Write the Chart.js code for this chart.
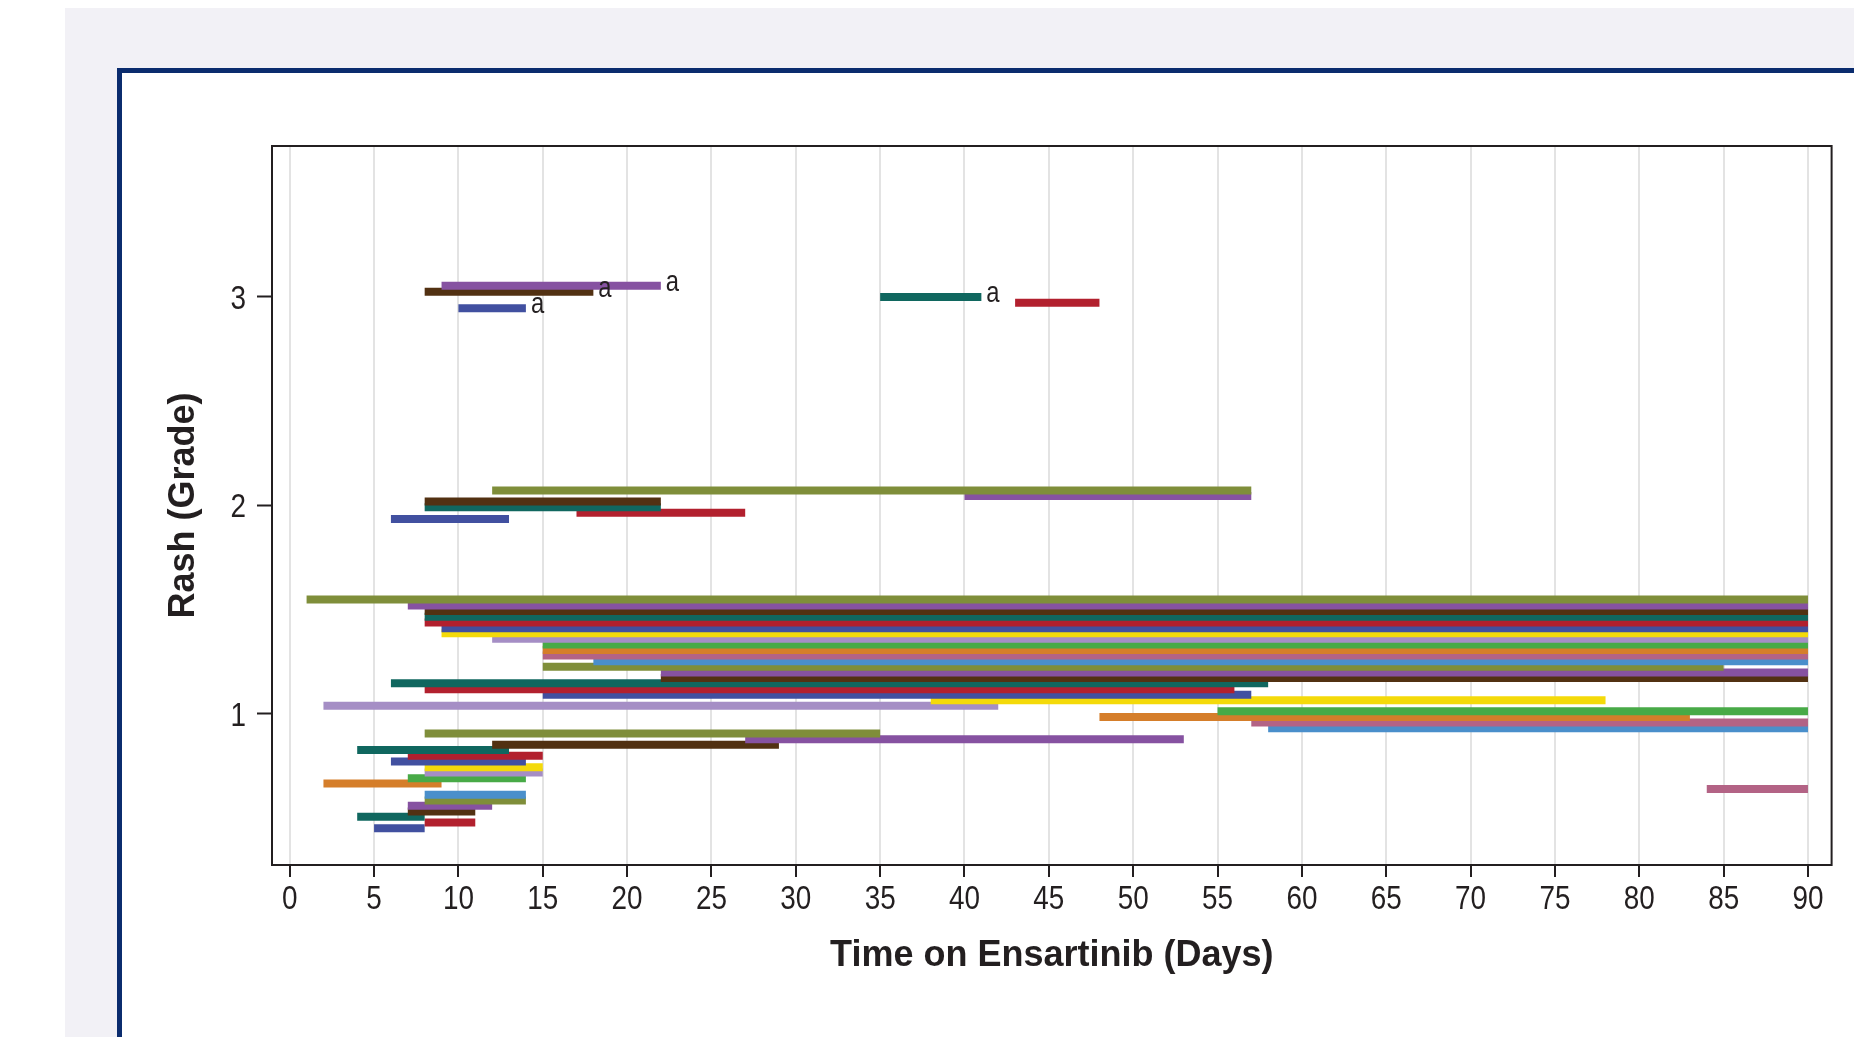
<!DOCTYPE html>
<html>
<head>
<meta charset="utf-8">
<title>Rash grade over time on ensartinib</title>
<script src="https://cdn.jsdelivr.net/npm/chart.js@4.4.1/dist/chart.umd.min.js"></script>
<style>
  html, body { margin: 0; padding: 0; background: #fff; overflow: hidden; }
  #bg { position: absolute; left: 65px; top: 8px; width: 1900px; height: 1100px; background: #f2f1f6; }
  #panel { position: absolute; left: 117px; top: 68px; width: 1900px; height: 1100px; background: #fff; border: 5px solid #0b2c6e; }
  #chart { position: absolute; left: 0; top: 0; }
</style>
</head>
<body>
<div id="bg"></div>
<div id="panel"></div>
<canvas id="chart" width="1854" height="1037"></canvas>
<script>
// one entry per rash episode, listed top to bottom
// grade 3 (with "a" notes), grade 2, then the grade 1 block
const barStart = [9, 8, 35, 43, 10,
    12, 40, 8, 8, 17, 6,
    1, 7, 8, 8, 8, 9, 9, 12, 15, 15, 15, 18,
    15, 22, 22, 6, 8, 15, 38, 2, 55, 48, 57, 58,
    8, 27, 12, 4, 7, 6, 8, 8, 7, 2, 84, 8,
    8, 7, 7, 4, 8, 5];
const barEnd = [22, 18, 41, 48, 14,
    57, 57, 22, 22, 27, 13,
    90, 90, 90, 90, 90, 90, 90, 90, 90, 90, 90, 90,
    85, 90, 90, 58, 56, 57, 78, 42, 90, 83, 90, 90,
    35, 53, 29, 13, 15, 14, 15, 15, 14, 9, 90, 14,
    14, 12, 11, 8, 11, 8];
const barGrade = [3.052, 3.024, 2.998, 2.971, 2.945,
    2.071, 2.045, 2.018, 1.991, 1.965, 1.934,
    1.549, 1.520, 1.493, 1.466, 1.438, 1.411, 1.387, 1.360, 1.333, 1.307, 1.280, 1.253,
    1.226, 1.199, 1.173, 1.147, 1.119, 1.092, 1.066, 1.039, 1.013, 0.986, 0.959, 0.932,
    0.907, 0.879, 0.852, 0.827, 0.800, 0.772, 0.745, 0.720, 0.692, 0.667, 0.640, 0.613,
    0.586, 0.560, 0.533, 0.507, 0.480, 0.453];
const barNote = ["a", "a", "a", "", "a"];
const barColour = ["purple", "brown", "teal", "red", "blue",
    "olive", "purple", "brown", "teal", "red", "blue",
    "olive", "purple", "brown", "teal", "red", "blue", "yellow", "lavender", "green", "orange", "pink", "sky",
    "olive", "purple", "brown", "teal", "red", "blue", "yellow", "lavender", "green", "orange", "pink", "sky",
    "olive", "purple", "brown", "teal", "red", "blue", "yellow", "lavender", "green", "orange", "pink", "sky",
    "olive", "purple", "brown", "teal", "red", "blue"];

const xTicks = [0, 5, 10, 15, 20, 25, 30, 35, 40, 45, 50, 55, 60, 65, 70, 75, 80, 85, 90];
const yTicks = [1, 2, 3];

const palette = {
    olive: "#7f8e3a", purple: "#8652a1", brown: "#523112", teal: "#10675f",
    red: "#b2202e", blue: "#4150a0", yellow: "#f4da0a", lavender: "#a58ec5",
    green: "#48aa47", orange: "#d57e2a", pink: "#b36385", sky: "#4a8fcb"
};

const ink = "#231f20";
const hidden = "rgba(0,0,0,0)";
const titleFont = {family: "'Liberation Sans', Arial, sans-serif", size: 36, weight: "bold"};

// dataset 0 is painted last, so upper bars sit over the ones below
const datasets = barGrade.map((g, i) => ({
    data: [{x: barStart[i], y: g}, {x: barEnd[i], y: g}],
    showLine: true,
    borderColor: palette[barColour[i]],
    borderWidth: 8,
    borderCapStyle: "butt",
    pointRadius: 0,
    pointHoverRadius: 0
}));

// the figure uses a narrow Helvetica, squeeze the regular face to match
const narrowText = (ctx, text, x, y, align) => {
    ctx.save();
    ctx.translate(x, y);
    ctx.scale(0.82, 1);
    ctx.textAlign = align;
    ctx.fillText(text, 0, 0);
    ctx.restore();
};

const frame = {
    id: "frame",
    afterDraw(chart) {
        const {ctx, chartArea: a, scales: {x, y}} = chart;
        ctx.save();
        ctx.strokeStyle = ink;
        ctx.lineWidth = 2;
        ctx.strokeRect(a.left, a.top, a.right - a.left, a.bottom - a.top);

        ctx.fillStyle = ink;
        ctx.textBaseline = "alphabetic";
        ctx.font = "34px 'Liberation Sans', Arial, sans-serif";
        x.ticks.forEach(t => narrowText(ctx, String(t.value), x.getPixelForValue(t.value), a.bottom + 44, "center"));
        y.ticks.forEach(t => narrowText(ctx, String(t.value), a.left - 26, y.getPixelForValue(t.value) + 12, "right"));

        ctx.font = "29px 'Liberation Sans', Arial, sans-serif";
        barNote.forEach((note, i) => {
            if (!note) return;
            narrowText(ctx, note, x.getPixelForValue(barEnd[i]) + 5, y.getPixelForValue(barGrade[i]) + 5, "left");
        });
        ctx.restore();
    }
};

new Chart("chart", {
    type: "scatter",
    data: {datasets},
    options: {
        responsive: false,
        animation: false,
        devicePixelRatio: 1,
        layout: {padding: {left: 162.8, top: 146, right: 22.4, bottom: 59}},
        plugins: {legend: {display: false}, tooltip: {enabled: false}},
        scales: {
            x: {
                type: "linear",
                min: -1.05,
                max: 91.4,
                afterBuildTicks: s => { s.ticks = xTicks.map(v => ({value: v})); },
                afterFit: s => { s.height = 113; },
                grid: {color: "#e3e3e3", lineWidth: 2, tickColor: ink, tickWidth: 2, tickLength: 12},
                border: {display: false},
                ticks: {color: hidden, maxRotation: 0, autoSkip: false},
                title: {display: true, text: "Time on Ensartinib (Days)", color: ink, font: titleFont, padding: 0}
            },
            y: {
                type: "linear",
                min: 0.2763,
                max: 3.722,
                afterBuildTicks: s => { s.ticks = yTicks.map(v => ({value: v})); },
                afterFit: s => { s.width = 109.2; },
                grid: {drawOnChartArea: false, tickColor: ink, tickWidth: 2, tickLength: 15},
                border: {display: false},
                ticks: {color: hidden},
                title: {display: true, text: "Rash (Grade)", color: ink, font: titleFont, padding: 0}
            }
        }
    },
    plugins: [frame]
});
</script>
</body>
</html>
